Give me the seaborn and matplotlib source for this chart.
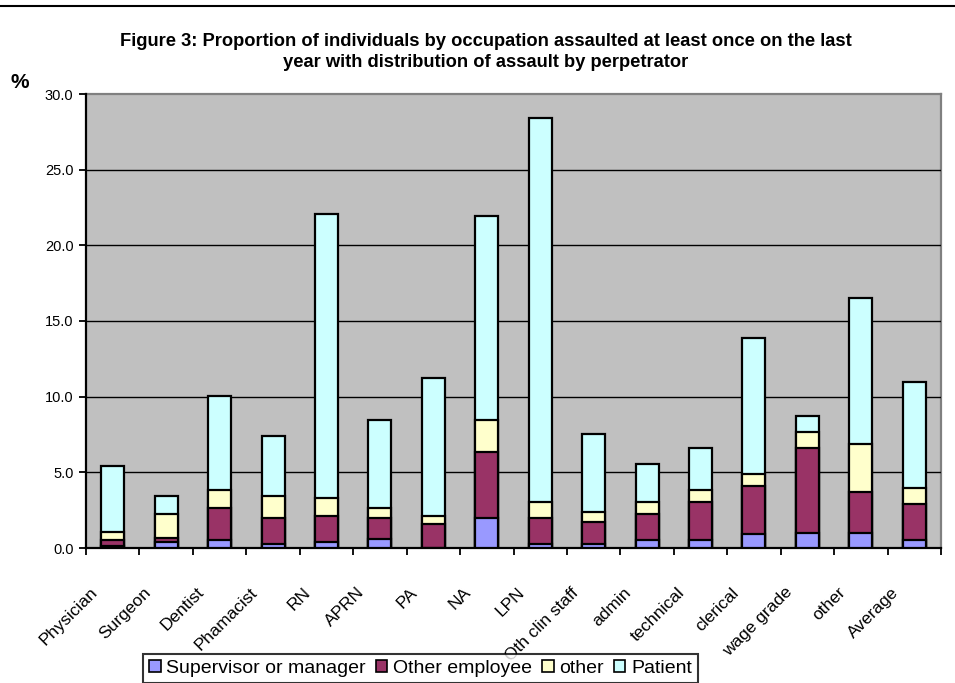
import matplotlib
matplotlib.use("Agg")
import matplotlib.pyplot as plt
from matplotlib.patches import Patch
from matplotlib.lines import Line2D
from matplotlib.ticker import FormatStrFormatter, FixedLocator
import matplotlib.transforms as mtransforms
import seaborn as sns
import numpy as np
import pandas as pd

categories = ["Physician", "Surgeon", "Dentist", "Phamacist", "RN", "APRN", "PA", "NA",
              "LPN", "Oth clin staff", "admin", "technical", "clerical", "wage grade",
              "other", "Average"]
supervisor = [0.15, 0.37, 0.51, 0.24, 0.37, 0.62, 0.00, 1.96, 0.24, 0.24, 0.51, 0.51, 0.90, 0.99, 0.99, 0.51]
other_employee = [0.36, 0.27, 2.13, 1.74, 1.75, 1.34, 1.56, 4.39, 1.72, 1.46, 1.72, 2.51, 3.18, 5.60, 2.69, 2.38]
other = [0.53, 1.59, 1.17, 1.44, 1.19, 0.68, 0.53, 2.09, 1.08, 0.66, 0.79, 0.82, 0.79, 1.08, 3.17, 1.06]
patient = [4.36, 1.19, 6.22, 3.96, 18.75, 5.80, 9.13, 13.49, 25.37, 5.16, 2.51, 2.75, 8.99, 1.04, 9.66, 7.00]
series_names = ["Supervisor or manager", "Other employee", "other", "Patient"]
colors = ["#9999FF", "#993366", "#FFFFCC", "#CCFFFF"]

title = ("Figure 3: Proportion of individuals by occupation assaulted at least once on the last\n"
         "year with distribution of assault by perpetrator")

sns.set_theme(style="white")
plt.rcParams["font.family"] = ["Liberation Sans", "DejaVu Sans"]
plt.rcParams["text.color"] = "black"
plt.rcParams["xtick.color"] = "black"
plt.rcParams["ytick.color"] = "black"
plt.rcParams["xtick.labelcolor"] = "black"
plt.rcParams["ytick.labelcolor"] = "black"

df = pd.DataFrame({"cat": categories,
                   series_names[0]: supervisor,
                   series_names[1]: other_employee,
                   series_names[2]: other,
                   series_names[3]: patient})
cum = df[series_names].cumsum(axis=1)

fig = plt.figure(figsize=(9.55, 6.83), dpi=100)
ax = fig.add_axes([86/955, 1-548/683, (941-86)/955, (548-94)/683])
ax.set_facecolor("#C0C0C0")

for name, col in reversed(list(zip(series_names, colors))):
    sns.barplot(x=df["cat"], y=cum[name], order=categories, color=col, saturation=1,
                edgecolor="black", linewidth=1.6, width=0.43, ax=ax, zorder=3)

ax.set_xlim(-0.5, len(categories) - 0.5)
ax.set_ylim(0, 30)
ax.set_yticks(np.arange(0, 30.1, 5))
ax.yaxis.set_major_formatter(FormatStrFormatter("%.1f"))
ax.grid(False)
for yv in np.arange(5, 30, 5):
    ax.axhline(yv, color="black", linewidth=1.0, zorder=1)
ax.set_xlabel("")
ax.set_ylabel("")

for s in ["left", "bottom"]:
    ax.spines[s].set_color("black")
    ax.spines[s].set_linewidth(1.6)
for s in ["top", "right"]:
    ax.spines[s].set_color("#808080")
    ax.spines[s].set_linewidth(1.6)
    ax.spines[s].set_zorder(0.5)

ax.tick_params(axis="y", which="major", direction="out", length=5, width=1.3, color="black",
               left=True, labelsize=10.5, pad=4, labelcolor="black")
ax.set_xticks(np.arange(len(categories)))
ax.xaxis.set_minor_locator(FixedLocator(np.arange(-0.5, len(categories), 1.0)))
ax.tick_params(axis="x", which="minor", direction="out", length=5, width=1.3, color="black", bottom=True)
ax.tick_params(axis="x", which="major", length=0, pad=0, labelcolor="black")
ax.set_xticklabels(categories, rotation=45, ha="right", va="center", rotation_mode="anchor",
                   fontsize=12.5, family=["Liberation Sans Narrow", "Liberation Sans", "DejaVu Sans"])
offset = mtransforms.ScaledTranslation(-18/100, -42/100, fig.dpi_scale_trans)
for lbl in ax.get_xticklabels():
    lbl.set_transform(lbl.get_transform() + offset)
for lbl in ax.get_yticklabels():
    lbl.set_fontsize(10.5)

fig.text(486/955, 1-52/683, title, ha="center", va="center", fontsize=13.2, fontweight="bold",
         linespacing=1.32, color="black")
fig.text(10/955, 1-82/683, "%", ha="left", va="center", fontsize=15, fontweight="bold", color="black")
fig.add_artist(Line2D([0, 1], [1-6/683, 1-6/683], color="black", linewidth=1.5,
                      transform=fig.transFigure))

handles = [Patch(facecolor=c, edgecolor="black", linewidth=1.2) for c in colors]
leg = fig.legend(handles, series_names, loc="upper left",
                 bbox_to_anchor=(143/955, 1-654/683), ncol=4, frameon=True, fancybox=False,
                 fontsize=14, handlelength=0.6, handleheight=0.6, handletextpad=0.3,
                 columnspacing=0.5, borderpad=0.3, borderaxespad=0)
leg.get_frame().set_edgecolor("black")
leg.get_frame().set_linewidth(1.5)
leg.get_frame().set_facecolor("white")
for t in leg.get_texts():
    t.set_color("black")

fig.savefig("out.png", dpi=100)
